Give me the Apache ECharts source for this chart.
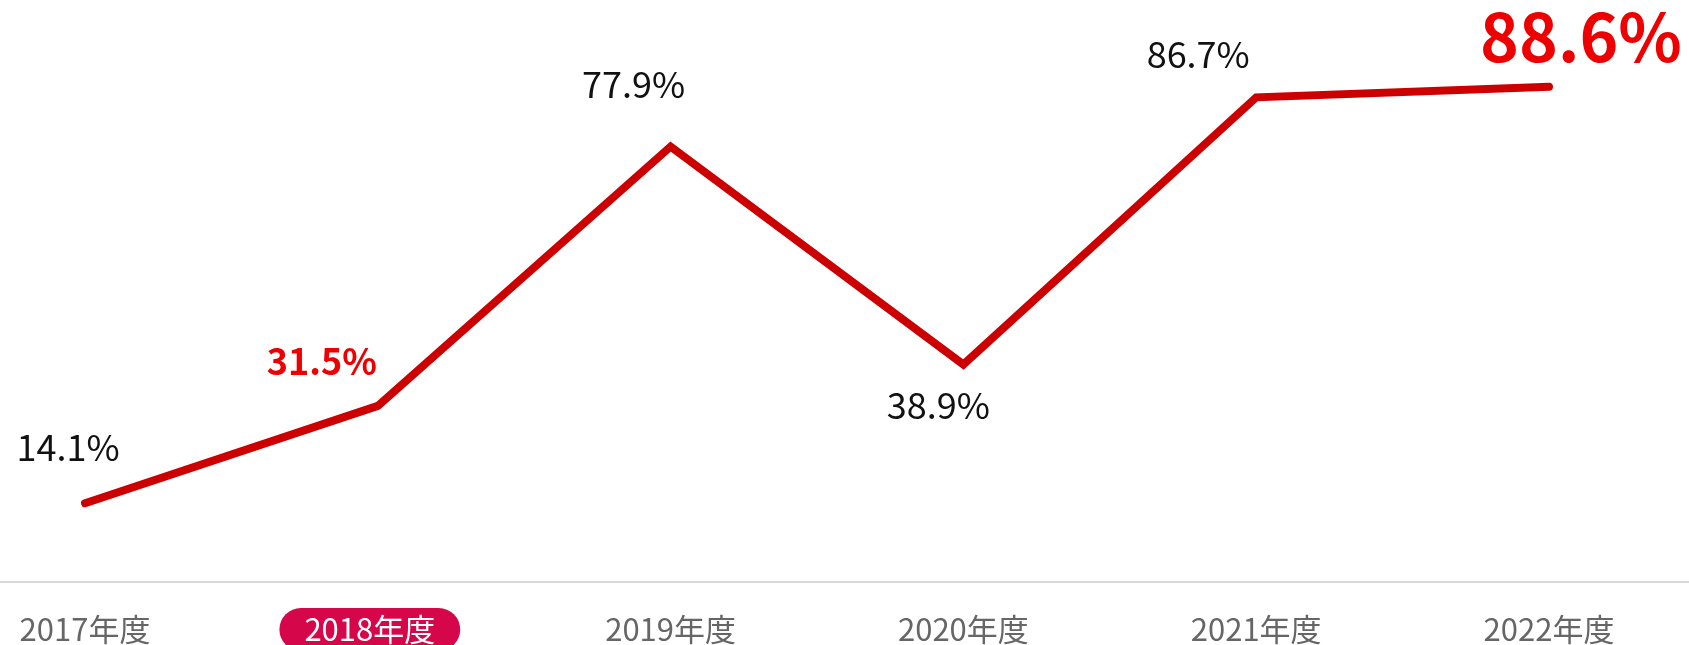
<!DOCTYPE html>
<html lang="ja">
<head>
    <meta charset="UTF-8">
    <title>年度推移</title>
    <script type="text/javascript" src="https://cdn.jsdelivr.net/npm/echarts@6/dist/echarts.min.js"></script>
    <style>
        html, body { margin: 0; padding: 0; background: #fff; }
        #chart { width: 1689px; height: 645px; }
    </style>
</head>
<body>
    <div id="chart"></div>
    <script>
        // データ
        var years = ['2017年度', '2018年度', '2019年度', '2020年度', '2021年度', '2022年度'];
        var rates = [14.1, 31.5, 77.9, 38.9, 86.7, 88.6];
        var highlightYear = 1;   // 2018年度 (pill)
        var latestYear = 5;      // 2022年度 (big label)

        // ラベル位置の調整 (点からのずれ)
        var labelShift = [[-17, -56], [-56, -45], [-37, -62], [-25, 41], [-58, -43], [32, -50]];

        var FONT = '"Noto Sans CJK JP", "Noto Sans", sans-serif';

        var seriesData = [];
        for (var i = 0; i < rates.length; i++) {
            var lb = {
                show: true,
                position: 'inside',
                offset: labelShift[i],
                formatter: '{c}%',
                fontFamily: FONT,
                fontSize: 36,
                color: '#111'
            };
            if (i === highlightYear) {
                lb.color = '#ee0000';
                lb.fontWeight = 'bold';
                lb.fontSize = 36;
            }
            if (i === latestYear) {
                lb.color = '#ee0000';
                lb.fontWeight = 'bold';
                lb.fontSize = 66;
            }
            seriesData.push({ value: rates[i], label: lb });
        }

        var chart = echarts.init(document.getElementById('chart'));
        var option = {
            animation: false,
            grid: [
                { left: 85, right: 140, top: 23, bottom: 63, outerBoundsMode: 'none' },
                { left: 0, right: 0, top: 23, bottom: 63, outerBoundsMode: 'none' }
            ],
            xAxis: [
                {
                    type: 'category',
                    gridIndex: 0,
                    data: years,
                    boundaryGap: false,
                    axisLine: { show: false },
                    axisTick: { show: false },
                    axisLabel: {
                        margin: 26,
                        interval: 0,
                        formatter: function (v, idx) {
                            // pill is a little left of the point, so pad on the right
                            return idx === highlightYear ? '{hl|' + v + '}{sp|}' : '{n|' + v + '}';
                        },
                        rich: {
                            n: {
                                fontFamily: FONT,
                                fontSize: 31,
                                color: '#666',
                                padding: [6, 0]
                            },
                            hl: {
                                fontFamily: FONT,
                                fontSize: 31,
                                color: '#fff',
                                backgroundColor: '#d6064a',
                                borderRadius: 22,
                                padding: [6, 25]
                            },
                            sp: {
                                width: 16
                            }
                        }
                    }
                },
                {
                    type: 'value',
                    gridIndex: 1,
                    min: 0,
                    max: 1,
                    axisLine: { show: true, lineStyle: { color: '#d9d9d9', width: 2 } },
                    axisTick: { show: false },
                    axisLabel: { show: false },
                    splitLine: { show: false }
                }
            ],
            yAxis: [
                { type: 'value', gridIndex: 0, min: 0, max: 100, show: false },
                { type: 'value', gridIndex: 1, min: 0, max: 1, show: false }
            ],
            series: [
                {
                    type: 'line',
                    xAxisIndex: 0,
                    yAxisIndex: 0,
                    data: seriesData,
                    symbol: 'circle',
                    symbolSize: 0,
                    showSymbol: true,
                    clip: false,
                    lineStyle: { color: '#cc0000', width: 8, cap: 'round', join: 'miter' },
                    itemStyle: { color: '#cc0000' },
                    emphasis: { disabled: true }
                }
            ]
        };
        chart.setOption(option);
    </script>
</body>
</html>
